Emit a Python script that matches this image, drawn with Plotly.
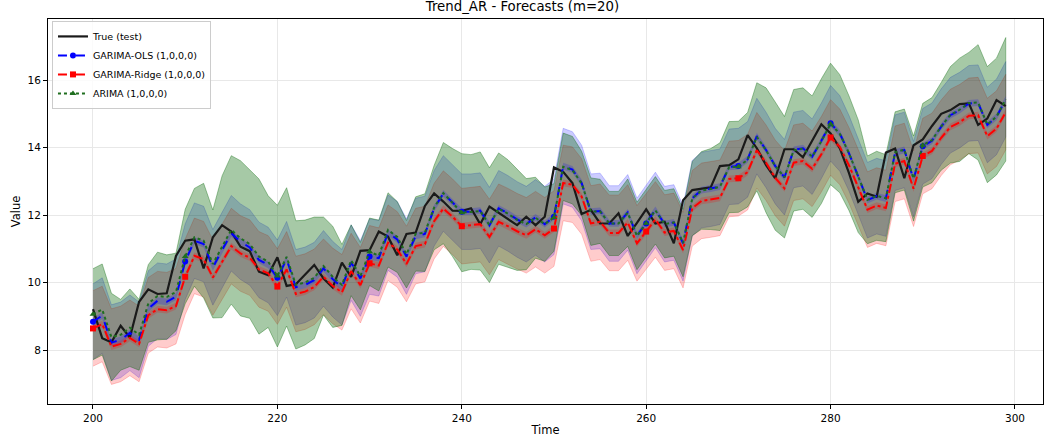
import plotly.graph_objects as go

time = list(range(200, 300))

true_test = [
    9.21, 8.35, 8.23, 8.72, 8.37, 9.43, 9.80, 9.66, 9.68, 10.79,
    11.24, 11.28, 10.42, 11.34, 11.70, 11.51, 11.06, 10.93, 10.32, 10.22,
    10.75, 9.90, 9.95, 10.22, 10.52, 10.12, 9.85, 10.59, 10.17, 10.94,
    10.96, 11.51, 11.36, 10.81, 11.44, 11.48, 12.27, 12.64, 12.40, 12.13,
    12.12, 12.20, 11.73, 12.25, 12.07, 11.87, 11.70, 11.95, 11.70, 11.95,
    13.41, 13.28, 12.95, 12.03, 12.15, 11.75, 11.75, 12.05, 11.38, 11.77,
    12.17, 11.75, 11.80, 11.16, 12.44, 12.74, 12.79, 12.82, 13.45, 13.48,
    13.65, 14.37, 13.98, 13.48, 13.09, 13.95, 13.95, 13.71, 14.20, 14.69,
    14.42, 13.98, 13.24, 12.39, 12.64, 12.54, 13.85, 13.97, 13.09, 14.07,
    14.24, 14.64, 15.00, 15.11, 15.29, 15.31, 14.67, 14.86, 15.41, 15.23,
]

ols_mean = [
    8.84, 9.02, 8.22, 8.30, 8.51, 8.30, 9.23, 9.46, 9.43, 9.58,
    10.62, 11.24, 11.14, 10.45, 10.96, 11.46, 11.21, 11.04, 10.67, 10.52,
    10.14, 10.69, 9.86, 9.93, 10.07, 10.42, 10.10, 9.86, 10.59, 10.12,
    10.77, 10.72, 11.48, 11.28, 10.77, 11.38, 11.44, 12.20, 12.64, 12.37,
    12.10, 12.10, 12.13, 11.70, 12.20, 12.05, 11.87, 11.73, 11.93, 11.73,
    11.95, 13.45, 13.35, 12.95, 12.10, 12.12, 11.75, 11.75, 12.08, 11.38,
    11.75, 12.15, 11.73, 11.78, 11.16, 12.50, 12.74, 12.78, 12.84, 13.43,
    13.45, 13.65, 14.34, 13.93, 13.45, 13.12, 13.93, 13.98, 13.73, 14.20,
    14.72, 14.42, 13.83, 13.14, 12.44, 12.56, 12.49, 13.85, 13.93, 13.06,
    14.04, 14.20, 14.62, 14.96, 15.11, 15.31, 15.33, 14.67, 14.91, 15.43,
]

ridge_mean = [
    8.64, 8.77, 8.10, 8.18, 8.36, 8.18, 9.03, 9.21, 9.18, 9.30,
    10.17, 10.79, 10.69, 10.15, 10.61, 11.08, 10.86, 10.74, 10.39, 10.27,
    9.88, 10.39, 9.66, 9.73, 9.87, 10.17, 9.90, 9.71, 10.34, 9.92,
    10.57, 10.50, 11.18, 10.98, 10.55, 11.08, 11.14, 11.82, 12.19, 11.95,
    11.67, 11.70, 11.73, 11.35, 11.80, 11.67, 11.52, 11.40, 11.58, 11.40,
    11.60, 12.95, 12.90, 12.55, 11.75, 11.80, 11.47, 11.47, 11.78, 11.16,
    11.51, 11.87, 11.48, 11.53, 10.96, 12.20, 12.42, 12.46, 12.51, 13.07,
    13.09, 13.27, 13.92, 13.55, 13.10, 12.79, 13.55, 13.60, 13.37, 13.80,
    14.30, 14.02, 13.47, 12.82, 12.16, 12.28, 12.21, 13.52, 13.60, 12.78,
    13.75, 13.90, 14.29, 14.61, 14.75, 14.94, 14.96, 14.34, 14.56, 15.05,
]

arima_mean = [
    9.06, 9.20, 8.38, 8.45, 8.66, 8.45, 9.38, 9.60, 9.57, 9.72,
    10.77, 11.34, 11.24, 10.55, 11.06, 11.56, 11.31, 11.14, 10.77, 10.62,
    10.19, 10.76, 9.93, 10.00, 10.14, 10.49, 10.17, 9.93, 10.66, 10.19,
    10.91, 10.80, 11.56, 11.35, 10.84, 11.44, 11.48, 12.22, 12.65, 12.37,
    12.07, 12.09, 12.12, 11.70, 12.19, 12.04, 11.86, 11.73, 11.92, 11.73,
    11.93, 13.43, 13.33, 12.94, 12.10, 12.11, 11.75, 11.75, 12.07, 11.38,
    11.76, 12.14, 11.73, 11.78, 11.17, 12.49, 12.73, 12.77, 12.84, 13.42,
    13.43, 13.64, 14.32, 13.92, 13.45, 13.12, 13.92, 13.97, 13.73, 14.19,
    14.70, 14.41, 13.83, 13.15, 12.45, 12.57, 12.50, 13.86, 13.94, 13.08,
    14.07, 14.22, 14.63, 14.97, 15.12, 15.32, 15.34, 14.68, 14.92, 15.43,
]

arima_halfwidth = [
    1.35, 1.35, 1.30, 1.05, 1.15, 1.05, 1.15, 1.30, 1.25, 1.15,
    1.40, 1.45, 1.70, 1.60, 2.10, 2.20, 2.30, 2.20, 2.30, 1.95,
    2.10, 2.05, 1.90, 1.85, 1.80, 1.45, 1.50, 1.20, 1.05, 1.00,
    1.00, 1.05, 1.10, 1.05, 1.00, 1.10, 1.15, 1.25, 1.50, 1.60,
    1.75, 1.70, 1.75, 1.70, 1.65, 1.60, 1.50, 1.35, 1.20, 1.10,
    1.00, 1.00, 1.00, 0.95, 1.00, 0.95, 0.95, 0.95, 1.00, 1.00,
    1.00, 1.00, 1.00, 1.00, 1.00, 1.10, 1.15, 1.20, 1.30, 1.35,
    1.35, 1.40, 1.60, 1.85, 1.90, 1.80, 1.80, 1.80, 1.80, 1.85,
    1.80, 1.75, 1.70, 1.67, 1.30, 1.32, 1.29, 1.20, 1.20, 1.26,
    1.24, 1.26, 1.30, 1.43, 1.53, 1.50, 1.71, 1.72, 1.73, 1.83,
]

ols_halfwidth = 1.12
ridge_halfwidth = 1.12
mean_band_halfwidth = 0.1
marker_every = 10

x_ticks = [200, 220, 240, 260, 280, 300]
y_ticks = [8, 10, 12, 14, 16]

FONT = "DejaVu Sans"


def band_trace(mean, hw, color, edge):
    if not isinstance(hw, list):
        hw = [hw] * len(mean)
    upper = [m + h for m, h in zip(mean, hw)]
    lower = [m - h for m, h in zip(mean, hw)]
    return go.Scatter(
        x=time + time[::-1],
        y=upper + lower[::-1],
        fill="toself",
        fillcolor=color,
        line=dict(color=edge, width=0.8),
        mode="lines",
        hoverinfo="skip",
        showlegend=False,
    )


fig = go.Figure()

# wide prediction bands
fig.add_trace(band_trace(ols_mean, ols_halfwidth, "rgba(0,0,255,0.2)", "rgba(0,0,255,0.25)"))
fig.add_trace(band_trace(ridge_mean, ridge_halfwidth, "rgba(255,0,0,0.2)", "rgba(255,0,0,0.25)"))
fig.add_trace(band_trace(arima_mean, arima_halfwidth, "rgba(0,100,0,0.35)", "rgba(0,100,0,0.45)"))
# narrow bands around the means
fig.add_trace(band_trace(ols_mean, mean_band_halfwidth, "rgba(0,0,255,0.2)", "rgba(0,0,255,0)"))
fig.add_trace(band_trace(ridge_mean, mean_band_halfwidth, "rgba(255,0,0,0.2)", "rgba(255,0,0,0)"))

series = [
    ("True (test)", true_test, "#1a1a1a", "solid", None, 2.2),
    ("GARIMA-OLS (1,0,0,0)", ols_mean, "#0000ff", "dash", "circle", 2.0),
    ("GARIMA-Ridge (1,0,0,0)", ridge_mean, "#ff0000", "dashdot", "square", 2.0),
    ("ARIMA (1,0,0,0)", arima_mean, "#1f6e1f", "dot", "triangle-up", 2.0),
]

for name, vals, color, dash, symbol, width in series:
    fig.add_trace(go.Scatter(
        x=time, y=vals, mode="lines",
        line=dict(color=color, width=width, dash=dash),
        showlegend=False, name=name,
    ))
    if symbol:
        fig.add_trace(go.Scatter(
            x=time[::marker_every], y=vals[::marker_every], mode="markers",
            marker=dict(color=color, size=6, symbol=symbol),
            showlegend=False, name=name,
        ))

for name, vals, color, dash, symbol, width in series:
    fig.add_trace(go.Scatter(
        x=[None], y=[None],
        mode="lines+markers" if symbol else "lines",
        line=dict(color=color, width=width, dash=dash),
        marker=dict(color=color, size=6, symbol=symbol or "circle"),
        name=name, showlegend=True,
    ))

fig.update_layout(
    width=1045, height=442,
    margin=dict(l=48, r=2, t=19, b=38, autoexpand=False),
    paper_bgcolor="white", plot_bgcolor="white",
    font=dict(family=FONT, size=11, color="black"),
    title=dict(text="Trend_AR - Forecasts (m=20)", x=0.5, xanchor="center",
               y=0.996, yanchor="top", font=dict(family=FONT, size=13.3, color="black")),
    legend=dict(
        x=0.004, y=0.995, xanchor="left", yanchor="top",
        bgcolor="rgba(255,255,255,0.8)", bordercolor="#cccccc", borderwidth=1,
        font=dict(family=FONT, size=9.5, color="black"),
        tracegroupgap=0, itemwidth=30,
    ),
    showlegend=True,
)

fig.update_xaxes(
    automargin=False,
    range=[195.12, 303.04], tickvals=x_ticks, ticks="outside", ticklen=4,
    tickcolor="black", showline=True, linecolor="black", linewidth=1, mirror=True,
    showgrid=True, gridcolor="#e8e8e8", gridwidth=1, zeroline=False,
    title=dict(text="Time", font=dict(family=FONT, size=11.5), standoff=3),
    tickfont=dict(family=FONT, size=10.5),
)
fig.update_yaxes(
    automargin=False,
    range=[6.40, 17.81], tickvals=y_ticks, ticks="outside", ticklen=4,
    tickcolor="black", showline=True, linecolor="black", linewidth=1, mirror=True,
    showgrid=True, gridcolor="#e8e8e8", gridwidth=1, zeroline=False,
    title=dict(text="Value", font=dict(family=FONT, size=11.5), standoff=4),
    tickfont=dict(family=FONT, size=10.5),
)

fig.write_html(
    "out.html",
    config={"displayModeBar": False},
    post_script="document.body.style.margin='0';document.body.style.padding='0';",
)
